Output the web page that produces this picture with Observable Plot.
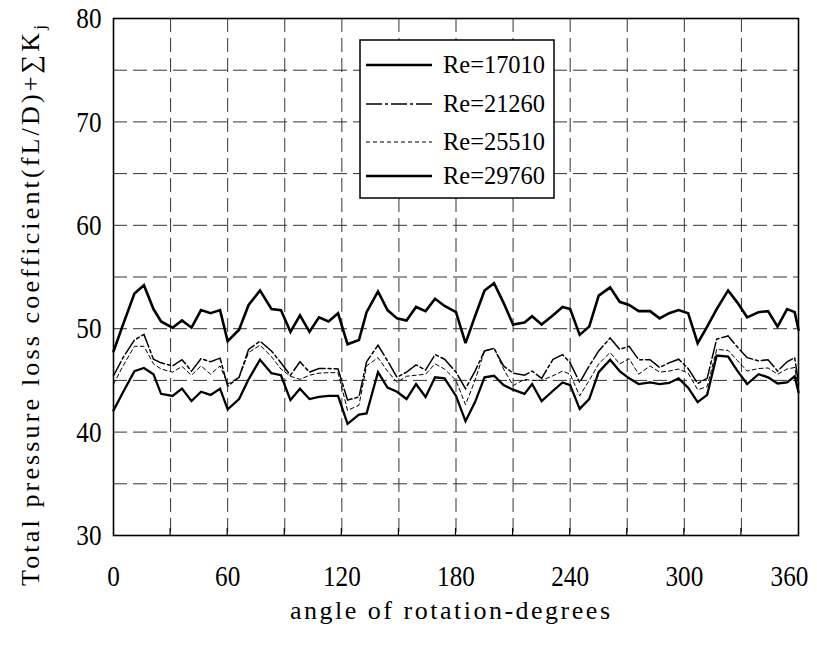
<!DOCTYPE html>
<html>
<head>
<meta charset="utf-8">
<script src="https://cdn.jsdelivr.net/npm/d3@7"></script>
<script src="https://cdn.jsdelivr.net/npm/@observablehq/plot@0.6"></script>
<style>
  html, body { margin: 0; padding: 0; background: #fff; }
  #chart svg { display: block; }
</style>
</head>
<body>
<div id="chart"></div>
<script>
// ---- data ----
const angles = [0,5,11,16,21,25,31,36,41,46,51,56,60,66,71,77,83,88,93,98,103,108,113,118,123,129,133,139,144,149,154,159,164,169,174,180,185,190,195,200,205,210,216,220,225,231,236,240,245,250,255,261,266,271,276,282,287,292,297,302,307,312,317,323,328,333,339,344,349,354,358,360];

const re17010 = [47.8,50.4,53.4,54.2,51.9,50.7,50.1,50.8,50.1,51.8,51.5,51.8,48.8,49.9,52.3,53.7,51.9,51.8,49.7,51.3,49.7,51.1,50.7,51.5,48.5,48.9,51.6,53.6,51.8,51.0,50.8,52.1,51.7,52.9,52.2,51.6,48.6,51.2,53.7,54.4,52.5,50.4,50.6,51.2,50.4,51.3,52.1,51.9,49.4,50.2,53.2,54.0,52.6,52.3,51.7,51.7,51.0,51.5,51.8,51.5,48.6,50.2,51.9,53.7,52.5,51.1,51.6,51.7,50.2,51.9,51.6,49.9];

const re21260 = [45.45,47.2,48.9,49.45,47.05,46.7,46.4,47.0,45.9,47.1,46.8,47.15,44.45,45.3,48.0,48.8,47.85,46.7,45.5,46.8,45.8,46.15,46.15,46.1,43.1,43.4,46.8,48.4,46.9,45.3,45.8,46.5,46.0,47.5,47.05,45.8,44.2,45.9,47.85,48.1,46.4,45.7,45.5,45.9,45.2,47.05,47.5,46.7,44.8,46.4,47.85,49.1,48.0,48.3,47.0,47.0,46.25,46.7,47.05,46.15,44.7,45.2,49.0,49.3,48.2,47.2,46.9,47.0,45.9,46.8,47.2,44.65];

const re25510 = [44.65,46.4,48.3,48.3,46.6,46.1,45.8,46.35,45.5,46.4,45.6,46.4,44.65,45.3,47.7,48.4,47.3,46.1,45.4,45.1,45.5,45.7,45.75,45.75,42.1,42.6,46.4,47.2,45.9,44.8,45.4,45.5,45.6,46.6,46.1,45.0,42.65,45.0,47.85,48.1,46.1,44.5,45.1,45.0,45.0,45.45,45.9,45.6,43.5,45.0,46.6,47.7,46.6,47.1,45.6,46.4,45.8,45.9,46.1,45.7,44.1,44.4,48.0,47.9,46.9,45.9,46.15,46.2,45.6,46.1,46.25,44.3];

const re29760 = [42.1,43.85,45.9,46.2,45.6,43.7,43.5,44.2,43.0,43.9,43.6,44.2,42.2,43.2,45.1,47.0,45.7,45.5,43.1,44.2,43.2,43.4,43.5,43.5,40.8,41.7,41.8,45.8,44.3,43.9,43.2,44.65,43.4,45.3,45.2,43.5,41.05,42.9,45.3,45.45,44.55,44.1,43.7,44.65,43.0,44.0,44.8,44.55,42.25,43.2,45.8,47.0,45.9,45.2,44.65,44.8,44.65,44.75,45.2,44.3,42.9,43.6,47.4,47.3,45.9,44.65,45.6,45.3,44.7,44.8,45.4,43.85];

const seriesNames = ["Re=17010", "Re=21260", "Re=25510", "Re=29760"];
const xTicks = [0, 60, 120, 180, 240, 300, 360];
const yTicks = [30, 40, 50, 60, 70, 80];
const xGrid = [30, 60, 90, 120, 150, 180, 210, 240, 270, 300, 330];
const yGrid = [35, 40, 45, 50, 55, 60, 65, 70, 75];
const xMinor = [30, 60, 90, 120, 150, 180, 210, 240, 270, 300, 330];
const xLabel = "angle of rotation-degrees";
const yLabel = "Total pressure loss coefficient(fL/D)+∑K";
const yLabelSub = "j";

// ---- styles ----
const styles = [
  {strokeWidth: 2.6, dash: null},
  {strokeWidth: 1.5, dash: "16,3,3,3"},
  {strokeWidth: 1, dash: "4,3"},
  {strokeWidth: 2.3, dash: null}
];
const allSeries = [re17010, re21260, re25510, re29760];
const tables = allSeries.map((vals, k) => angles.map((a, i) => ({angle: a, value: vals[i], series: seriesNames[k]})));

const W = 817, H = 646;
const M = {left: 113, right: 19, top: 18, bottom: 111};

const plot = Plot.plot({
  width: W,
  height: H,
  marginLeft: M.left,
  marginRight: M.right,
  marginTop: M.top,
  marginBottom: M.bottom,
  style: {fontFamily: "Liberation Serif", background: "#fff"},
  x: {domain: [0, 360]},
  y: {domain: [30, 80]},
  marks: [
    Plot.ruleX(xGrid, {stroke: "#333", strokeWidth: 1, strokeDasharray: "14,6"}),
    Plot.ruleY(yGrid, {stroke: "#333", strokeWidth: 1, strokeDasharray: "14,6"}),
    ...tables.map((t, k) => Plot.line(t, {
      x: "angle", y: "value", stroke: "black",
      strokeWidth: styles[k].strokeWidth,
      strokeDasharray: styles[k].dash,
      strokeLinejoin: "miter", strokeMiterlimit: 3
    })),
    Plot.axisX(xTicks, {tickSize: 0, tickPadding: 29, fontSize: 30, label: null, fill: "black"}),
    Plot.axisY(yTicks, {tickSize: 0, tickPadding: 12, fontSize: 30, label: null, fill: "black"}),
    Plot.frame({stroke: "black", strokeWidth: 1.6})
  ]
});

document.getElementById("chart").appendChild(plot);

const svg = d3.select(plot);
const xs = plot.scale("x"), ys = plot.scale("y");

// narrow, tall tick digits as in the reference
svg.selectAll("g[aria-label='x-axis tick label'] text, g[aria-label='y-axis tick label'] text")
  .each(function() {
    const n = this.textContent.length;
    d3.select(this).attr("textLength", 12.6 * n).attr("lengthAdjust", "spacingAndGlyphs");
  });
// the last x label sits a little inside the frame, as in the reference
svg.selectAll("g[aria-label='x-axis tick label'] text")
  .filter(function() { return this.textContent === String(xTicks[xTicks.length - 1]); })
  .attr("dx", -9);

// inward ticks on bottom axis
svg.append("g").selectAll("line").data(xMinor).join("line")
  .attr("x1", d => xs.apply(d)).attr("x2", d => xs.apply(d))
  .attr("y1", ys.apply(30)).attr("y2", ys.apply(30) - 7)
  .attr("stroke", "black").attr("stroke-width", 1.2);

// axis titles
svg.append("text")
  .attr("x", 450).attr("y", 619)
  .attr("text-anchor", "middle")
  .attr("font-family", "Liberation Serif")
  .attr("font-size", 26)
  .attr("fill", "black")
  .attr("textLength", 320).attr("lengthAdjust", "spacing")
  .text(xLabel);

const yt = svg.append("text")
  .attr("transform", "translate(39,586) rotate(-90)")
  .attr("text-anchor", "start")
  .attr("font-family", "Liberation Serif")
  .attr("font-size", 26)
  .attr("fill", "black");
yt.append("tspan").attr("textLength", 553).attr("lengthAdjust", "spacing").text(yLabel);
yt.append("tspan").attr("font-size", 17).attr("dy", 6).text(yLabelSub);

// legend
const lg = svg.append("g");
lg.append("rect").attr("x", 360).attr("y", 40).attr("width", 194).attr("height", 158)
  .attr("fill", "white").attr("stroke", "black").attr("stroke-width", 1.5);
const rowsY = [65, 104, 142, 176];
seriesNames.forEach((name, k) => {
  lg.append("line").attr("x1", 366).attr("x2", 432).attr("y1", rowsY[k]).attr("y2", rowsY[k])
    .attr("stroke", "black").attr("stroke-width", styles[k].strokeWidth)
    .attr("stroke-dasharray", styles[k].dash);
  lg.append("text").attr("x", 443).attr("y", rowsY[k] + 8)
    .attr("text-anchor", "start")
    .attr("font-family", "Liberation Serif").attr("font-size", 25).attr("fill", "black")
    .attr("textLength", 102).attr("lengthAdjust", "spacingAndGlyphs")
    .text(name);
});
</script>
</body>
</html>
